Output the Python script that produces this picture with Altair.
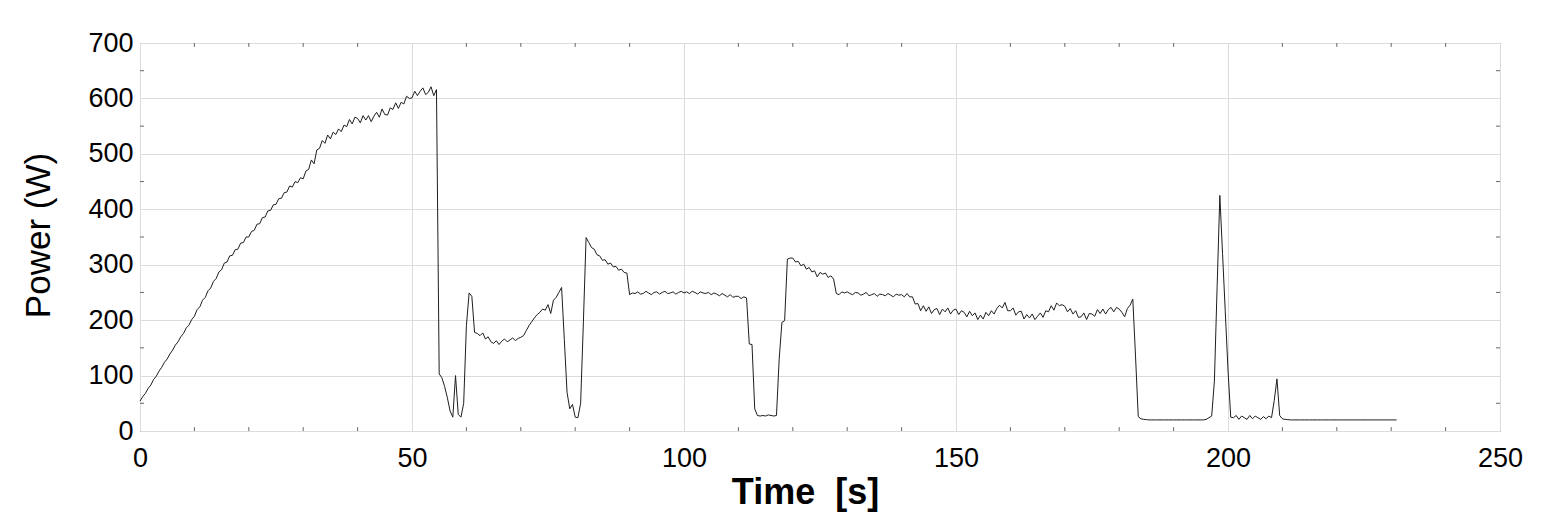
import altair as alt
import pandas as pd

# Power readings (W), sampled every 0.5 s, one list per 10 s
p000 = [54, 62, 68, 77, 83, 93, 99, 108, 115, 124, 130, 139, 146, 155, 161, 170, 176, 186, 191, 201]
p010 = [207, 219, 224, 236, 241, 253, 258, 270, 275, 287, 291, 303, 305, 316, 317, 327, 328, 339, 340, 350]
p020 = [350, 360, 362, 373, 374, 385, 386, 397, 398, 408, 409, 419, 420, 430, 431, 442, 440, 450, 448, 457]
p030 = [455, 469, 472, 489, 482, 507, 510, 524, 519, 534, 527, 539, 535, 545, 540, 552, 549, 562, 554, 566]
p040 = [564, 556, 569, 561, 569, 558, 568, 575, 566, 581, 571, 570, 583, 580, 592, 582, 593, 590, 604, 600]
p050 = [601, 613, 605, 613, 619, 607, 611, 621, 605, 616, 103, 96, 80, 60, 36, 25, 100, 30, 25, 50]
p060 = [190, 249, 243, 178, 176, 172, 177, 166, 170, 161, 158, 163, 156, 162, 166, 161, 164, 168, 163, 167]
p070 = [169, 172, 181, 190, 197, 204, 210, 214, 220, 218, 228, 212, 236, 241, 250, 259, 165, 70, 40, 48]
p080 = [25, 24, 50, 195, 349, 340, 331, 328, 318, 316, 308, 309, 301, 303, 296, 297, 290, 292, 286, 285]
p090 = [246, 249, 248, 251, 247, 248, 252, 249, 246, 250, 251, 247, 250, 252, 248, 249, 251, 247, 250, 252]
p100 = [249, 251, 248, 252, 250, 247, 251, 249, 248, 250, 246, 249, 247, 244, 248, 245, 242, 246, 241, 243]
p110 = [243, 239, 242, 240, 157, 156, 40, 28, 27, 28, 27, 29, 28, 27, 28, 130, 196, 199, 310, 312]
p120 = [312, 305, 306, 298, 301, 292, 295, 287, 289, 278, 286, 283, 285, 277, 280, 274, 248, 246, 251, 249]
p130 = [251, 248, 246, 250, 249, 245, 247, 250, 244, 246, 248, 243, 247, 246, 244, 248, 245, 242, 247, 245]
p140 = [246, 242, 248, 242, 242, 229, 230, 217, 226, 216, 224, 212, 219, 221, 210, 220, 215, 222, 211, 218]
p150 = [220, 210, 217, 214, 206, 216, 208, 213, 201, 209, 202, 214, 208, 217, 211, 221, 227, 222, 232, 217]
p160 = [217, 222, 209, 215, 216, 202, 210, 204, 211, 201, 207, 213, 205, 217, 215, 226, 218, 231, 226, 228]
p170 = [225, 215, 221, 211, 217, 205, 206, 213, 201, 212, 211, 207, 219, 212, 220, 211, 219, 223, 215, 223]
p180 = [220, 214, 206, 221, 227, 238, 135, 26, 22, 21, 20.5, 20, 20, 20, 20, 20, 20, 20, 20, 20]
p190 = [20, 20, 20, 20, 20, 20, 20, 20, 20, 20, 20, 20, 21, 24, 27, 90, 260, 425, 320, 215]
p200 = [110, 25, 24, 28, 21, 27, 24, 21, 28, 22, 27, 24, 21, 26, 22, 27, 24, 55, 94, 28]
p210 = [22, 21, 20.5, 20, 20, 20, 20, 20, 20, 20, 20, 20, 20, 20, 20, 20, 20, 20, 20, 20]
p220 = [20, 20, 20, 20, 20, 20, 20, 20, 20, 20, 20, 20, 20, 20, 20, 20, 20, 20, 20, 20]
p230 = [20, 20, 20]

segments = [p000, p010, p020, p030, p040, p050, p060, p070, p080, p090, p100, p110,
            p120, p130, p140, p150, p160, p170, p180, p190, p200, p210, p220, p230]
power = [v for seg in segments for v in seg]
time = [i * 0.5 for i in range(len(power))]

x_labels = [0, 50, 100, 150, 200, 250]
y_labels = [0, 100, 200, 300, 400, 500, 600, 700]
minor_x = [10, 20, 30, 40, 60, 70, 80, 90, 110, 120, 130, 140, 160, 170, 180, 190, 210, 220, 230, 240]
minor_y = [50, 150, 250, 350, 450, 550, 650]

df = pd.DataFrame({"t": time, "p": power})

rows = []
for v in minor_x:
    rows.append({"t": v, "t2": v, "p": 0, "p2": 7})
    rows.append({"t": v, "t2": v, "p": 700, "p2": 693})
for v in minor_y:
    rows.append({"t": 0, "t2": 0.75, "p": v, "p2": v})
    rows.append({"t": 250, "t2": 249.25, "p": v, "p2": v})
ticks_df = pd.DataFrame(rows)

FONT = "Liberation Sans"
xs = alt.Scale(domain=[0, 250], nice=False, zero=False)
ys = alt.Scale(domain=[0, 700], nice=False)

x_axis = alt.Axis(
    values=x_labels, grid=True, ticks=False, domain=False, labelFlush=False,
    labelFontSize=27, labelFont=FONT, labelColor="black", labelPadding=14,
    title="Time\u00a0 [s]", titleFont=FONT, titleFontSize=36, titleFontWeight="bold",
    titleColor="black", titleX=665, titleY=72, titleAlign="center",
    titleBaseline="alphabetic")
y_axis = alt.Axis(
    values=y_labels, grid=True, ticks=False, domain=False, labelFlush=False,
    labelFontSize=27, labelFont=FONT, labelColor="black", labelPadding=7,
    title="Power (W)", titleFont=FONT, titleFontSize=35, titleFontWeight="normal",
    titleColor="black", titleAngle=270, titleX=-102, titleY=192,
    titleAlign="center", titleBaseline="middle")

line = alt.Chart(df).mark_line(color="#1e1e1e", strokeWidth=1).encode(
    x=alt.X("t:Q", scale=xs, axis=x_axis),
    y=alt.Y("p:Q", scale=ys, axis=y_axis),
)

minor = alt.Chart(ticks_df).mark_rule(color="#666666", strokeWidth=1).encode(
    x=alt.X("t:Q", scale=xs, axis=x_axis),
    x2="t2:Q",
    y=alt.Y("p:Q", scale=ys, axis=y_axis),
    y2="p2:Q",
)

chart = alt.layer(minor, line).properties(
    width=1360, height=388,
    autosize=alt.AutoSizeParams(type="none"),
    padding={"left": 132, "top": 35, "right": 36, "bottom": 89},
).configure_view(
    stroke="#666666", strokeWidth=1
).configure_axis(
    gridColor="#dcdcdc", gridWidth=1
)

chart.save("out.html", embed_options={"renderer": "svg", "actions": False})
